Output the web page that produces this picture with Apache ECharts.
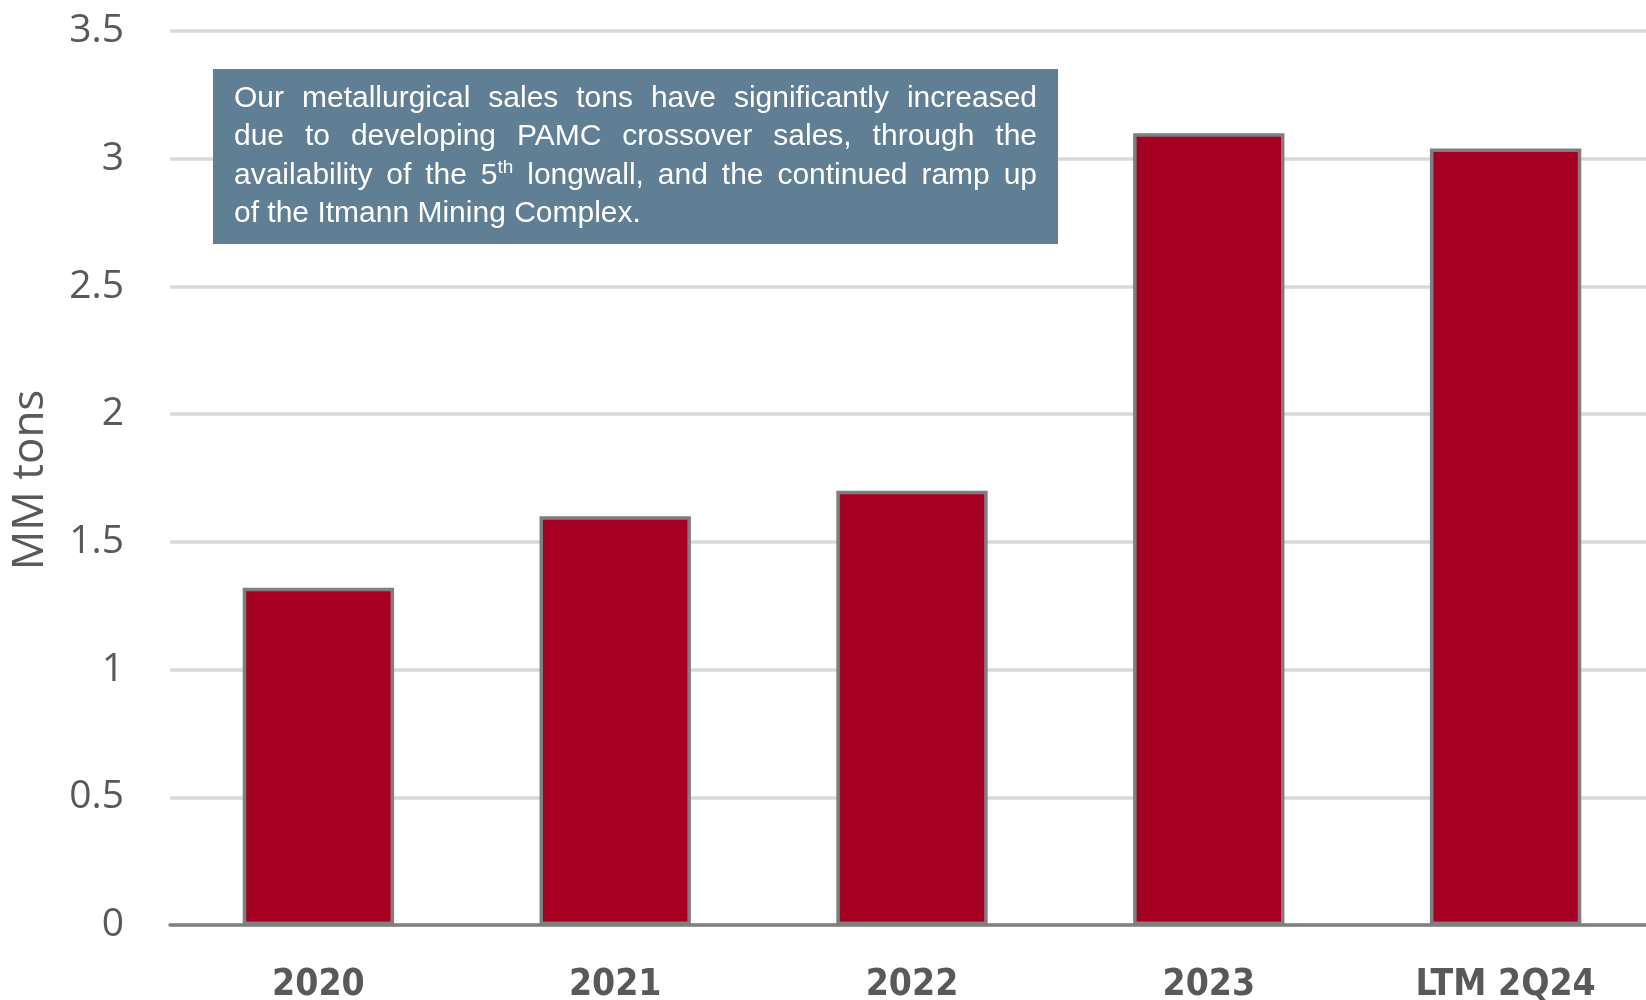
<!DOCTYPE html>
<html>
<head>
<meta charset="utf-8">
<script src="https://cdn.jsdelivr.net/npm/echarts@6/dist/echarts.min.js"></script>
<style>
html,body{margin:0;padding:0;background:#fff;}
#chart{width:1646px;height:1000px;}
</style>
</head>
<body>
<div id="chart"></div>
<script>
const categories = ['2020', '2021', '2022', '2023', 'LTM 2Q24'];
const salesTons = [1.32, 1.60, 1.70, 3.10, 3.04];
const yMin = 0, yMax = 3.5, yStep = 0.5;
const yAxisTitle = 'MM tons';
const noteLines = [
  'Our metallurgical sales tons have significantly increased',
  'due to developing PAMC crossover sales, through the',
  'availability of the 5^th longwall, and the continued ramp up',
  'of the Itmann Mining Complex.'
];

const chart = echarts.init(document.getElementById('chart'), null, {renderer: 'canvas'});

// --- note box layout ---
const box = {x: 213, y: 69, w: 845, h: 175};
const textLeft = 234, textRight = 1037;
const lineY0 = 98.5, lineStep = 38.5;
const noteFontSize = 30, supFontSize = 19;
const noteFamily = '"Liberation Sans", Arial, sans-serif';
const mctx = document.createElement('canvas').getContext('2d');
function w(t, size){ mctx.font = size + 'px ' + noteFamily; return mctx.measureText(t).width; }

const noteEls = [{
  type: 'rect', shape: {x: box.x, y: box.y, width: box.w, height: box.h},
  style: {fill: '#607f95'}, z: 10
}];
noteLines.forEach((line, li) => {
  const words = line.split(' ').map(word => {
    const p = word.split('^');
    const main = p[0], sup = p[1] || '';
    return {main, sup, width: w(main, noteFontSize) + (sup ? w(sup, supFontSize) : 0)};
  });
  const y = lineY0 + li * lineStep;
  const total = words.reduce((s, o) => s + o.width, 0);
  const justify = li < noteLines.length - 1;
  const gap = justify ? (textRight - textLeft - total) / (words.length - 1) : w(' ', noteFontSize);
  let x = textLeft;
  words.forEach(o => {
    noteEls.push({type: 'text', z: 11, style: {
      text: o.main, x: x, y: y, fill: '#ffffff', fontSize: noteFontSize, fontFamily: noteFamily,
      align: 'left', verticalAlign: 'middle'}});
    if (o.sup) {
      noteEls.push({type: 'text', z: 11, style: {
        text: o.sup, x: x + w(o.main, noteFontSize), y: y - 8, fill: '#ffffff', fontSize: supFontSize, fontFamily: noteFamily,
        align: 'left', verticalAlign: 'middle'}});
    }
    x += o.width + gap;
  });
});

chart.setOption({
  animation: false,
  backgroundColor: '#ffffff',
  grid: {left: 170, right: -8, top: 31, bottom: 75, containLabel: false, outerBoundsMode: 'none'},
  xAxis: {
    type: 'category',
    data: categories,
    axisLine: {show: true, lineStyle: {color: '#808080', width: 3.5}},
    axisTick: {show: false},
    axisLabel: {
      color: '#595959', fontSize: 37, fontWeight: 'bold',
      fontFamily: '"Liberation Sans Narrow", "DejaVu Sans Condensed", sans-serif',
      margin: 42
    }
  },
  yAxis: {
    type: 'value',
    min: yMin, max: yMax, interval: yStep,
    name: yAxisTitle,
    nameLocation: 'middle',
    nameRotate: 90,
    nameGap: 118,
    nameTextStyle: {color: '#595959', fontSize: 44, fontFamily: '"Open Sans", sans-serif', padding: [0, 4, 0, 0]},
    axisLine: {show: false},
    axisTick: {show: false},
    axisLabel: {color: '#595959', fontSize: 39, fontFamily: '"Open Sans", sans-serif', margin: 46},
    splitLine: {show: true, lineStyle: {color: '#d9d9d9', width: 3.5}}
  },
  series: [{
    type: 'bar',
    data: salesTons,
    barWidth: '51%',
    itemStyle: {color: '#a50021', borderColor: '#7f7f7f', borderWidth: 3.5}
  }],
  graphic: noteEls
});
</script>
</body>
</html>
